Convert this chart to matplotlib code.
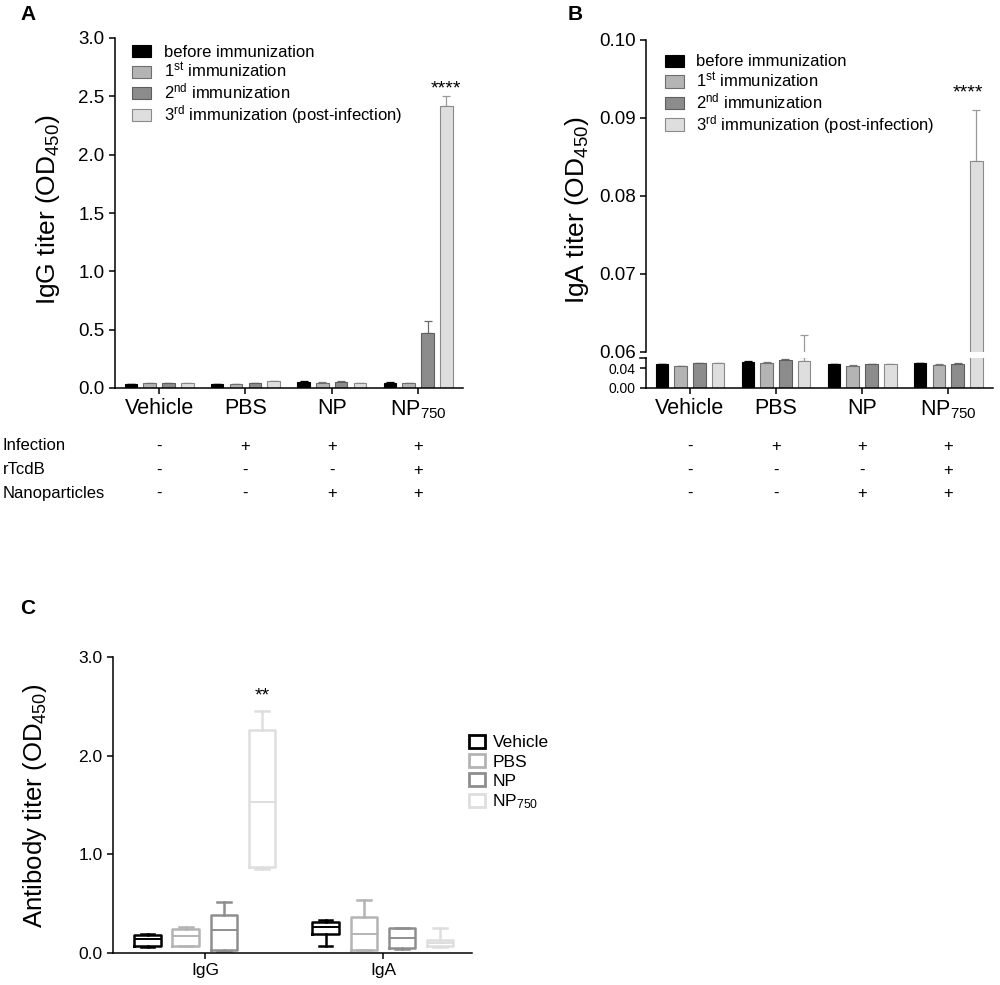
import numpy as np
import matplotlib
matplotlib.use('Agg')
import matplotlib.pyplot as plt
from matplotlib.patches import Patch
from matplotlib import transforms

plt.rcParams['font.family'] = ['Liberation Sans', 'DejaVu Sans']
plt.rcParams['mathtext.fontset'] = 'custom'
plt.rcParams['mathtext.rm'] = 'Liberation Sans'
plt.rcParams['mathtext.it'] = 'Liberation Sans:italic'
plt.rcParams['mathtext.bf'] = 'Liberation Sans:bold'

# ---- data ----
groups = ['Vehicle', 'PBS', 'NP', 'NP$_{750}$']
series = ['before immunization', '1$^{\\mathrm{st}}$ immunization',
          '2$^{\\mathrm{nd}}$ immunization', '3$^{\\mathrm{rd}}$ immunization (post-infection)']

# panel A, IgG titer (OD450)
igg_before = [0.035, 0.035, 0.055, 0.045]
igg_first = [0.040, 0.035, 0.045, 0.040]
igg_second = [0.040, 0.040, 0.055, 0.470]
igg_third = [0.045, 0.060, 0.040, 2.420]
igg_err_before = [0.003, 0.003, 0.004, 0.003]
igg_err_first = [0.002, 0.002, 0.003, 0.002]
igg_err_second = [0.003, 0.003, 0.004, 0.100]
igg_err_third = [0.002, 0.004, 0.002, 0.080]

# panel B, IgA titer (OD450)
iga_before = [0.0475, 0.0520, 0.0480, 0.0500]
iga_first = [0.0434, 0.0495, 0.0447, 0.0468]
iga_second = [0.0500, 0.0556, 0.0480, 0.0488]
iga_third = [0.0500, 0.0550, 0.0480, 0.0845]
iga_err_before = [0.0015, 0.0030, 0.0010, 0.0008]
iga_err_first = [0.0005, 0.0025, 0.0005, 0.0005]
iga_err_second = [0.0008, 0.0020, 0.0008, 0.0008]
iga_err_third = [0.0010, 0.0072, 0.0008, 0.0065]

# table under A and B
row_names = ['Infection', 'rTcdB', 'Nanoparticles']
infection = ['-', '+', '+', '+']
rtcdb = ['-', '-', '-', '+']
nanoparticles = ['-', '-', '+', '+']

# panel C, box plot stats per antibody (IgG, IgA)
box_groups = ['IgG', 'IgA']
box_names = ['Vehicle', 'PBS', 'NP', 'NP$_{750}$']
vehicle_stats = {'whislo': [0.065, 0.074], 'q1': [0.075, 0.192], 'med': [0.140, 0.263], 'q3': [0.185, 0.310], 'whishi': [0.195, 0.337]}
pbs_stats = {'whislo': [0.067, 0.027], 'q1': [0.074, 0.034], 'med': [0.168, 0.192], 'q3': [0.243, 0.360], 'whishi': [0.263, 0.539]}
np_stats = {'whislo': [0.024, 0.044], 'q1': [0.034, 0.050], 'med': [0.236, 0.148], 'q3': [0.388, 0.256], 'whishi': [0.516, 0.256]}
np750_stats = {'whislo': [0.850, 0.060], 'q1': [0.870, 0.067], 'med': [1.527, 0.100], 'q3': [2.265, 0.135], 'whishi': [2.454, 0.250]}

bar_colors = ['#000000', '#b4b4b4', '#8c8c8c', '#dedede']
bar_edges = ['#000000', '#6e6e6e', '#5e5e5e', '#8a8a8a']
err_colors = ['#000000', '#7a7a7a', '#6a6a6a', '#9a9a9a']
box_colors = ['#000000', '#b4b4b4', '#8e8e8e', '#dedede']

fig = plt.figure(figsize=(10, 9.85), dpi=100)
H = 985.0

def fy(px):
    return 1 - px / H

x = np.arange(len(groups))
offs = (np.arange(4) - 1.5) * 0.218
bw = 0.145


def style_ax(ax, labelsize=13.5):
    for s in ['top', 'right']:
        ax.spines[s].set_visible(False)
    for s in ['left', 'bottom']:
        ax.spines[s].set_linewidth(1.1)
    ax.tick_params(width=1.1, length=4, labelsize=labelsize)


def draw_bars(ax, vals, errs):
    for i in range(4):
        ax.bar(x + offs[i], vals[i], bw, color=bar_colors[i], edgecolor=bar_edges[i],
               linewidth=0.8, label=series[i], zorder=2)
        ax.errorbar(x + offs[i], vals[i], yerr=[np.zeros(4), errs[i]], fmt='none',
                    ecolor=err_colors[i], elinewidth=0.9, capsize=3, capthick=0.9, zorder=1)


# ---- panel A ----
axA = fig.add_axes([0.115, fy(388), 0.348, 350 / H])
draw_bars(axA, [igg_before, igg_first, igg_second, igg_third],
          [igg_err_before, igg_err_first, igg_err_second, igg_err_third])
style_ax(axA)
axA.set_xlim(-0.51, 3.52)
axA.set_ylim(0, 3.0)
axA.set_yticks([0, 0.5, 1.0, 1.5, 2.0, 2.5, 3.0])
axA.set_yticklabels(['0.0', '0.5', '1.0', '1.5', '2.0', '2.5', '3.0'])
axA.set_xticks(x)
axA.set_xticklabels(groups, fontsize=15.5)
axA.text(x[3] + offs[3], 2.56, '****', ha='center', va='center', fontsize=14)
axA.legend(loc='upper left', bbox_to_anchor=(0.03, 1.0), frameon=False, fontsize=12,
           handlelength=1.15, handleheight=0.75, handletextpad=0.75, labelspacing=0.08,
           borderaxespad=0.0)
fig.text(0.048, fy(210), 'IgG titer (OD$_{450}$)', rotation=90, ha='center', va='center', fontsize=19)
fig.text(0.028, fy(14), 'A', fontsize=15, fontweight='bold', ha='center', va='center')

# ---- panel B (broken axis) ----
axBt = fig.add_axes([0.646, fy(352), 0.347, 312 / H])
axBb = fig.add_axes([0.646, fy(388), 0.347, 30 / H])
iga_vals = [iga_before, iga_first, iga_second, iga_third]
iga_errs = [iga_err_before, iga_err_first, iga_err_second, iga_err_third]
draw_bars(axBt, iga_vals, iga_errs)
draw_bars(axBb, iga_vals, iga_errs)
for ax in (axBt, axBb):
    style_ax(ax)
    ax.set_xlim(-0.51, 3.52)
axBt.set_ylim(0.06, 0.10)
axBt.set_yticks([0.06, 0.07, 0.08, 0.09, 0.10])
axBt.set_yticklabels(['0.06', '0.07', '0.08', '0.09', '0.10'])
axBt.spines['bottom'].set_visible(False)
axBt.tick_params(axis='x', bottom=False, labelbottom=False)
axBb.set_ylim(0, 0.06)
axBb.set_yticks([0.0, 0.04])
axBb.set_yticklabels(['0.00', '0.04'])
axBb.tick_params(axis='y', labelsize=10)
axBb.set_xticks(x)
axBb.set_xticklabels(groups, fontsize=15.5)
axBb.plot([-0.016, 0.0], [1, 1], transform=axBb.transAxes, color='black', lw=1.1, clip_on=False)
axBt.text(x[3] + offs[3] - 0.1, 0.0932, '****', ha='center', va='center', fontsize=14)
axBt.legend(loc='upper left', bbox_to_anchor=(0.035, 0.975), frameon=False, fontsize=12,
            handlelength=1.15, handleheight=0.75, handletextpad=0.75, labelspacing=0.08,
            borderaxespad=0.0)
fig.text(0.577, fy(210), 'IgA titer (OD$_{450}$)', rotation=90, ha='center', va='center', fontsize=19)
fig.text(0.575, fy(14), 'B', fontsize=15, fontweight='bold', ha='center', va='center')

# ---- table of conditions ----
rows = [infection, rtcdb, nanoparticles]
row_y = [446, 470, 493]
for name, vals, ry in zip(row_names, rows, row_y):
    fig.text(0.003, fy(ry), name, ha='left', va='center', fontsize=12)
    for ax in (axA, axBb):
        tr = transforms.blended_transform_factory(ax.transData, fig.transFigure)
        for xi, v in zip(x, vals):
            fig.text(xi, fy(ry), v, transform=tr, ha='center', va='center', fontsize=12)

# ---- panel C ----
axC = fig.add_axes([0.113, fy(953), 0.359, 296 / H])
boff = (np.arange(4) - 1.5) * 0.214
all_stats = [vehicle_stats, pbs_stats, np_stats, np750_stats]
for i, st in enumerate(all_stats):
    bstats = []
    for g in range(len(box_groups)):
        bstats.append({'whislo': st['whislo'][g], 'q1': st['q1'][g], 'med': st['med'][g],
                       'q3': st['q3'][g], 'whishi': st['whishi'][g], 'fliers': []})
    c = box_colors[i]
    axC.bxp(bstats, positions=np.arange(len(box_groups)) + boff[i], widths=0.15,
            capwidths=0.075, showfliers=False,
            boxprops=dict(color=c, linewidth=1.8),
            whiskerprops=dict(color=c, linewidth=1.8),
            capprops=dict(color=c, linewidth=1.8),
            medianprops=dict(color=c, linewidth=1.4))
style_ax(axC, labelsize=12.5)
axC.set_xlim(-0.516, 1.50)
axC.set_ylim(0, 3.0)
axC.set_yticks([0, 1.0, 2.0, 3.0])
axC.set_yticklabels(['0.0', '1.0', '2.0', '3.0'])
axC.set_xticks(np.arange(len(box_groups)))
axC.set_xticklabels(box_groups, fontsize=12.5)
axC.text(0 + boff[3], 2.6, '**', ha='center', va='center', fontsize=14)
handles = [Patch(facecolor='none', edgecolor=c, linewidth=2) for c in box_colors]
fig.legend(handles, box_names, loc='upper left', bbox_to_anchor=(0.469, fy(735)), frameon=False,
           fontsize=12.5, handlelength=0.95, handleheight=0.75, handletextpad=0.4,
           labelspacing=0.22, borderaxespad=0.0, borderpad=0.0)
fig.text(0.035, fy(806), 'Antibody titer (OD$_{450}$)', rotation=90, ha='center', va='center', fontsize=18.5)
fig.text(0.028, fy(608), 'C', fontsize=15, fontweight='bold', ha='center', va='center')

fig.savefig('out.png', dpi=100)
